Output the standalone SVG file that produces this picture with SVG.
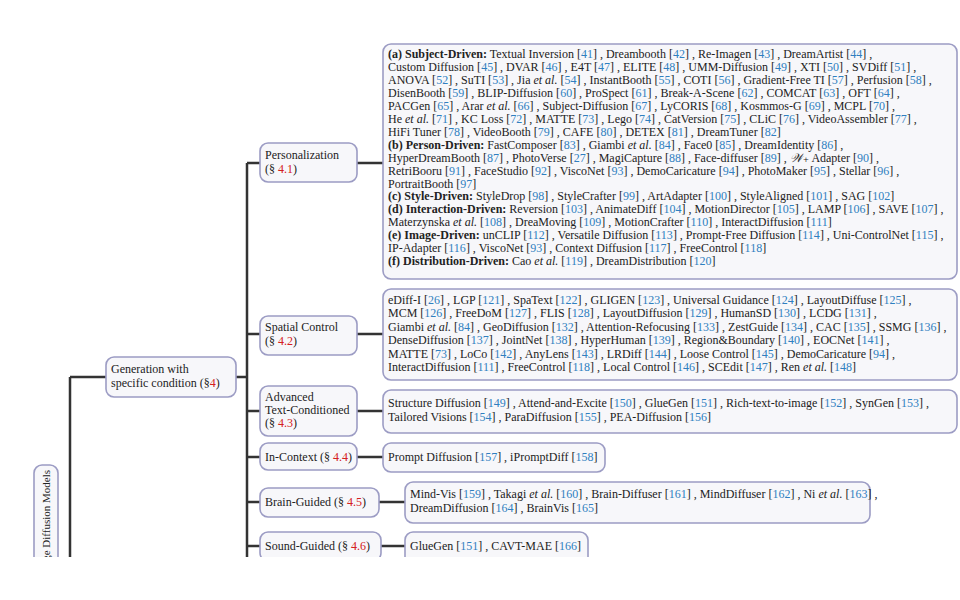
<svg xmlns="http://www.w3.org/2000/svg" width="960" height="600" viewBox="0 0 960 600">
<style>
text{font-family:"Liberation Serif","DejaVu Serif",serif;font-size:12px;fill:#222}
.r{fill:#2f7fc0}.s{fill:#d42020}.b{font-weight:bold}.i{font-style:italic}
.box{fill:#f7f7fa;stroke:#9c9cc4;stroke-width:1.6}
.c{stroke:#333;stroke-width:2.5;fill:none}
</style>
<defs><clipPath id="cl"><rect x="0" y="0" width="960" height="557"/></clipPath></defs>
<rect width="960" height="600" fill="#fff"/>
<g clip-path="url(#cl)">
<g id="connectors" class="c">
<path d="M70 377V600M70 377H106M236 377H247M247 163V600M247 163H260M357 163H383M247 334H260M357 334H383M247 411H260M357 411H383M247 457H260M357 457H383M247 502H260M379 502H405M247 546H260M381 546H405"/>
</g>
<g id="root"><rect class="box" x="34" y="465" width="24" height="140" rx="8"/>
<text transform="translate(50,470) rotate(-90)" text-anchor="end" style="font-size:11px">Text-to-Image Diffusion Models</text></g>
<g id="gen"><rect class="box" x="106" y="357" width="130" height="40" rx="8"/>
<text x="111" y="373">Generation with</text><text x="111" y="387">specific condition (§<tspan class="s">4</tspan>)</text></g>
<g id="pers"><rect class="box" x="260" y="143" width="97" height="39" rx="8"/>
<text x="265" y="159">Personalization</text><text x="265" y="173">(§ <tspan class="s">4.1</tspan>)</text></g>
<g id="spatial"><rect class="box" x="260" y="316" width="97" height="39" rx="8"/>
<text x="265" y="331">Spatial Control</text><text x="265" y="345">(§ <tspan class="s">4.2</tspan>)</text></g>
<g id="adv"><rect class="box" x="260" y="386" width="97" height="50" rx="8"/>
<text x="265" y="401">Advanced</text><text x="265" y="414">Text-Conditioned</text><text x="265" y="427">(§ <tspan class="s">4.3</tspan>)</text></g>
<g id="incontext"><rect class="box" x="260" y="443" width="97" height="27" rx="8"/>
<text x="265" y="461">In-Context (§ <tspan class="s">4.4</tspan>)</text></g>
<g id="brain"><rect class="box" x="260" y="488" width="119" height="29" rx="8"/>
<text x="265" y="506">Brain-Guided (§ <tspan class="s">4.5</tspan>)</text></g>
<g id="sound"><rect class="box" x="260" y="532" width="121" height="29" rx="8"/>
<text x="265" y="550">Sound-Guided (§ <tspan class="s">4.6</tspan>)</text></g>

<g id="persList"><rect class="box" x="383" y="44" width="574" height="235" rx="8"/>
<text x="388" y="58"><tspan class="b">(a) Subject-Driven:</tspan> Textual Inversion [<tspan class="r">41</tspan>] , Dreambooth [<tspan class="r">42</tspan>] , Re-Imagen [<tspan class="r">43</tspan>] , DreamArtist [<tspan class="r">44</tspan>] ,</text>
<text x="388" y="70.9">Custom Diffusion [<tspan class="r">45</tspan>] , DVAR [<tspan class="r">46</tspan>] , E4T [<tspan class="r">47</tspan>] , ELITE [<tspan class="r">48</tspan>] , UMM-Diffusion [<tspan class="r">49</tspan>] , XTI [<tspan class="r">50</tspan>] , SVDiff [<tspan class="r">51</tspan>] ,</text>
<text x="388" y="83.9">ANOVA [<tspan class="r">52</tspan>] , SuTI [<tspan class="r">53</tspan>] , Jia <tspan class="i">et al.</tspan> [<tspan class="r">54</tspan>] , InstantBooth [<tspan class="r">55</tspan>] , COTI [<tspan class="r">56</tspan>] , Gradient-Free TI [<tspan class="r">57</tspan>] , Perfusion [<tspan class="r">58</tspan>] ,</text>
<text x="388" y="96.8">DisenBooth [<tspan class="r">59</tspan>] , BLIP-Diffusion [<tspan class="r">60</tspan>] , ProSpect [<tspan class="r">61</tspan>] , Break-A-Scene [<tspan class="r">62</tspan>] , COMCAT [<tspan class="r">63</tspan>] , OFT [<tspan class="r">64</tspan>] ,</text>
<text x="388" y="109.8">PACGen [<tspan class="r">65</tspan>] , Arar <tspan class="i">et al.</tspan> [<tspan class="r">66</tspan>] , Subject-Diffusion [<tspan class="r">67</tspan>] , LyCORIS [<tspan class="r">68</tspan>] , Kosmmos-G [<tspan class="r">69</tspan>] , MCPL [<tspan class="r">70</tspan>] ,</text>
<text x="388" y="122.7">He <tspan class="i">et al.</tspan> [<tspan class="r">71</tspan>] , KC Loss [<tspan class="r">72</tspan>] , MATTE [<tspan class="r">73</tspan>] , Lego [<tspan class="r">74</tspan>] , CatVersion [<tspan class="r">75</tspan>] , CLiC [<tspan class="r">76</tspan>] , VideoAssembler [<tspan class="r">77</tspan>] ,</text>
<text x="388" y="135.7">HiFi Tuner [<tspan class="r">78</tspan>] , VideoBooth [<tspan class="r">79</tspan>] , CAFE [<tspan class="r">80</tspan>] , DETEX [<tspan class="r">81</tspan>] , DreamTuner [<tspan class="r">82</tspan>]</text>
<text x="388" y="148.6"><tspan class="b">(b) Person-Driven:</tspan> FastComposer [<tspan class="r">83</tspan>] , Giambi <tspan class="i">et al.</tspan> [<tspan class="r">84</tspan>] , Face0 [<tspan class="r">85</tspan>] , DreamIdentity [<tspan class="r">86</tspan>] ,</text>
<text x="388" y="161.6">HyperDreamBooth [<tspan class="r">87</tspan>] , PhotoVerse [<tspan class="r">27</tspan>] , MagiCapture [<tspan class="r">88</tspan>] , Face-diffuser [<tspan class="r">89</tspan>] , <tspan class="i">𝒲</tspan>₊ Adapter [<tspan class="r">90</tspan>] ,</text>
<text x="388" y="174.5">RetriBooru [<tspan class="r">91</tspan>] , FaceStudio [<tspan class="r">92</tspan>] , ViscoNet [<tspan class="r">93</tspan>] , DemoCaricature [<tspan class="r">94</tspan>] , PhotoMaker [<tspan class="r">95</tspan>] , Stellar [<tspan class="r">96</tspan>] ,</text>
<text x="388" y="187.5">PortraitBooth [<tspan class="r">97</tspan>]</text>
<text x="388" y="200.4"><tspan class="b">(c) Style-Driven:</tspan> StyleDrop [<tspan class="r">98</tspan>] , StyleCrafter [<tspan class="r">99</tspan>] , ArtAdapter [<tspan class="r">100</tspan>] , StyleAligned [<tspan class="r">101</tspan>] , SAG [<tspan class="r">102</tspan>]</text>
<text x="388" y="213.4"><tspan class="b">(d) Interaction-Driven:</tspan> Reversion [<tspan class="r">103</tspan>] , AnimateDiff [<tspan class="r">104</tspan>] , MotionDirector [<tspan class="r">105</tspan>] , LAMP [<tspan class="r">106</tspan>] , SAVE [<tspan class="r">107</tspan>] ,</text>
<text x="388" y="226.3">Materzynska <tspan class="i">et al.</tspan> [<tspan class="r">108</tspan>] , DreaMoving [<tspan class="r">109</tspan>] , MotionCrafter [<tspan class="r">110</tspan>] , InteractDiffusion [<tspan class="r">111</tspan>]</text>
<text x="388" y="239.3"><tspan class="b">(e) Image-Driven:</tspan> unCLIP [<tspan class="r">112</tspan>] , Versatile Diffusion [<tspan class="r">113</tspan>] , Prompt-Free Diffusion [<tspan class="r">114</tspan>] , Uni-ControlNet [<tspan class="r">115</tspan>] ,</text>
<text x="388" y="252.2">IP-Adapter [<tspan class="r">116</tspan>] , ViscoNet [<tspan class="r">93</tspan>] , Context Diffusion [<tspan class="r">117</tspan>] , FreeControl [<tspan class="r">118</tspan>]</text>
<text x="388" y="265.2"><tspan class="b">(f) Distribution-Driven:</tspan> Cao <tspan class="i">et al.</tspan> [<tspan class="r">119</tspan>] , DreamDistribution [<tspan class="r">120</tspan>]</text>
</g>
<g id="spatialList"><rect class="box" x="383" y="289" width="574" height="91" rx="8"/>
<text x="388" y="304">eDiff-I [<tspan class="r">26</tspan>] , LGP [<tspan class="r">121</tspan>] , SpaText [<tspan class="r">122</tspan>] , GLIGEN [<tspan class="r">123</tspan>] , Universal Guidance [<tspan class="r">124</tspan>] , LayoutDiffuse [<tspan class="r">125</tspan>] ,</text>
<text x="388" y="317.4">MCM [<tspan class="r">126</tspan>] , FreeDoM [<tspan class="r">127</tspan>] , FLIS [<tspan class="r">128</tspan>] , LayoutDiffusion [<tspan class="r">129</tspan>] , HumanSD [<tspan class="r">130</tspan>] , LCDG [<tspan class="r">131</tspan>] ,</text>
<text x="388" y="330.8">Giambi <tspan class="i">et al.</tspan> [<tspan class="r">84</tspan>] , GeoDiffusion [<tspan class="r">132</tspan>] , Attention-Refocusing [<tspan class="r">133</tspan>] , ZestGuide [<tspan class="r">134</tspan>] , CAC [<tspan class="r">135</tspan>] , SSMG [<tspan class="r">136</tspan>] ,</text>
<text x="388" y="344.2">DenseDiffusion [<tspan class="r">137</tspan>] , JointNet [<tspan class="r">138</tspan>] , HyperHuman [<tspan class="r">139</tspan>] , Region&amp;Boundary [<tspan class="r">140</tspan>] , EOCNet [<tspan class="r">141</tspan>] ,</text>
<text x="388" y="357.6">MATTE [<tspan class="r">73</tspan>] , LoCo [<tspan class="r">142</tspan>] , AnyLens [<tspan class="r">143</tspan>] , LRDiff [<tspan class="r">144</tspan>] , Loose Control [<tspan class="r">145</tspan>] , DemoCaricature [<tspan class="r">94</tspan>] ,</text>
<text x="388" y="371">InteractDiffusion [<tspan class="r">111</tspan>] , FreeControl [<tspan class="r">118</tspan>] , Local Control [<tspan class="r">146</tspan>] , SCEdit [<tspan class="r">147</tspan>] , Ren <tspan class="i">et al.</tspan> [<tspan class="r">148</tspan>]</text>
</g>
<g id="advList"><rect class="box" x="383" y="390" width="574" height="43" rx="8"/>
<text x="388" y="407">Structure Diffusion [<tspan class="r">149</tspan>] , Attend-and-Excite [<tspan class="r">150</tspan>] , GlueGen [<tspan class="r">151</tspan>] , Rich-text-to-image [<tspan class="r">152</tspan>] , SynGen [<tspan class="r">153</tspan>] ,</text>
<text x="388" y="421">Tailored Visions [<tspan class="r">154</tspan>] , ParaDiffusion [<tspan class="r">155</tspan>] , PEA-Diffusion [<tspan class="r">156</tspan>]</text>
</g>
<g id="icList"><rect class="box" x="383" y="443" width="222" height="29" rx="8"/>
<text x="388" y="461">Prompt Diffusion [<tspan class="r">157</tspan>] , iPromptDiff [<tspan class="r">158</tspan>]</text></g>
<g id="brainList"><rect class="box" x="405" y="482" width="465" height="41" rx="8"/>
<text x="410" y="498">Mind-Vis [<tspan class="r">159</tspan>] , Takagi <tspan class="i">et al.</tspan> [<tspan class="r">160</tspan>] , Brain-Diffuser [<tspan class="r">161</tspan>] , MindDiffuser [<tspan class="r">162</tspan>] , Ni <tspan class="i">et al.</tspan> [<tspan class="r">163</tspan>] ,</text>
<text x="410" y="512">DreamDiffusion [<tspan class="r">164</tspan>] , BrainVis [<tspan class="r">165</tspan>]</text></g>
<g id="soundList"><rect class="box" x="405" y="532" width="183" height="35" rx="8"/>
<text x="410" y="550">GlueGen [<tspan class="r">151</tspan>] , CAVT-MAE [<tspan class="r">166</tspan>]</text></g>
</g>
</svg>
